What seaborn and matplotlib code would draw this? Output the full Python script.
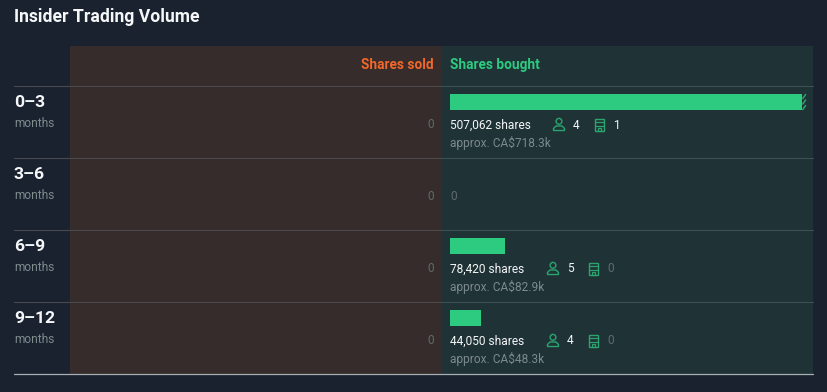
import matplotlib
matplotlib.use('Agg')
import matplotlib.pyplot as plt
from matplotlib.patches import Rectangle, Circle, Polygon
import pandas as pd
import seaborn as sns

periods = ['0–3', '3–6', '6–9', '9–12']
shares_bought = [507062, 0, 78420, 44050]
shares_sold = [0, 0, 0, 0]
bought_labels = ['507,062 shares', None, '78,420 shares', '44,050 shares']
approx_labels = ['approx. CA$718.3k', None, 'approx. CA$82.9k', 'approx. CA$48.3k']
insiders = [4, None, 5, 4]
transactions = [1, None, 0, 0]

BG = '#1a2230'
RED_PANEL = '#352c2b'
GREEN_PANEL = '#1f3236'
GREEN = '#2dcb80'
ICON = '#2aa56e'
ORANGE = '#f2672a'
WHITE = '#f4f6f7'
GREY = '#7c8a8c'
ZERO = '#5f6b6c'

sns.set_theme(style='white')
plt.rcParams['font.family'] = ['Roboto', 'DejaVu Sans']

W, H = 828, 392
fig = plt.figure(figsize=(W / 100, H / 100), dpi=100, facecolor=BG)


def pixel_axes(z):
    a = fig.add_axes([0, 0, 1, 1], zorder=z)
    a.set_xlim(0, W)
    a.set_ylim(H, 0)
    a.axis('off')
    return a


# panels behind the bars, text and icons in front
back = pixel_axes(0)
ax = pixel_axes(2)

back.add_patch(Rectangle((70, 46), 372, 328, fc=RED_PANEL, ec='none'))
back.add_patch(Rectangle((442, 46), 371, 328, fc=GREEN_PANEL, ec='none'))
for y in [86, 158, 230, 302]:
    back.plot([14, 442], [y, y], color='#4a4a4c', lw=0.8)
    back.plot([442, 813], [y, y], color='#3d5052', lw=0.8)
back.plot([14, 813], [374, 374], color='#a8b0b3', lw=0.9)

ax.text(14, 16.5, 'Insider Trading Volume', color=WHITE, fontsize=12.7,
        fontweight='bold', va='center', ha='left')
ax.text(434, 65, 'Shares sold', color=ORANGE, fontsize=9.8, fontweight='bold',
        va='center', ha='right')
ax.text(450, 65, 'Shares bought', color=GREEN, fontsize=9.8, fontweight='bold',
        va='center', ha='left')


def person(x, y):
    ax.add_patch(Circle((x, y - 3.2), 2.9, fc='none', ec=ICON, lw=1))
    ax.add_patch(Polygon([(x - 5.5, y + 6), (x - 5.5, y + 4), (x - 3, y + 1.5), (x + 3, y + 1.5),
                          (x + 5.5, y + 4), (x + 5.5, y + 6)], closed=True, fc='none', ec=ICON, lw=1))


def building(x, y):
    ax.add_patch(Rectangle((x - 4.5, y - 6), 9, 12, fc='none', ec=ICON, lw=1))
    ax.plot([x - 4.5, x + 4.5], [y - 2.5, y - 2.5], color=ICON, lw=0.9)
    ax.plot([x - 4.5, x + 4.5], [y + 1, y + 1], color=ICON, lw=0.9)
    ax.add_patch(Rectangle((x - 1.8, y + 3), 3.6, 3, fc='none', ec=ICON, lw=0.9))


row_top = [86, 158, 230, 302]
person_x = [559, None, 553, 553]
for i, top in enumerate(row_top):
    ax.text(14, top + 16.5, periods[i], color=WHITE, fontsize=12.6, fontweight='bold',
            va='center', ha='left')
    ax.text(14, top + 37.5, 'months', color=GREY, fontsize=8.6, va='center', ha='left')
    ax.text(434, top + 38.5, str(shares_sold[i]), color=ZERO, fontsize=8.6, va='center', ha='right')
    if shares_bought[i] == 0:
        ax.text(450, top + 38.5, '0', color=ZERO, fontsize=8.6, va='center', ha='left')
        continue
    ax.text(450, top + 39, bought_labels[i], color=WHITE, fontsize=8.6, va='center', ha='left')
    ax.text(450, top + 57, approx_labels[i], color=GREY, fontsize=8.6, va='center', ha='left')
    px = person_x[i]
    person(px, top + 38.5)
    ax.text(px + 14, top + 39, str(insiders[i]), color=WHITE, fontsize=8.6,
            va='center', ha='left')
    building(px + 40.5, top + 38.5)
    ax.text(px + 54, top + 39, str(transactions[i]),
            color=WHITE if transactions[i] else ZERO, fontsize=8.6,
            va='center', ha='left')

# bars on their own axes, scaled by share count
# rows are 72px, bar centres sit 16px below each row line
bar_ax = fig.add_axes([450 / W, 1 - 354 / H, 355 / W, 288 / H], zorder=1)
bar_ax.patch.set_alpha(0)
df = pd.DataFrame({'period': periods, 'bought': shares_bought})
sns.barplot(data=df, y='period', x='bought', color=GREEN, saturation=1, width=16 / 72,
            order=periods, linewidth=0, edgecolor='none', ax=bar_ax)
bar_ax.set_xlim(0, max(shares_bought))
bar_ax.axis('off')

# truncated-bar hatching at the end of the long bar
ax.add_patch(Rectangle((802.5, 94), 4, 16, fc=GREEN_PANEL, ec='none'))
for y in [94, 99.5, 105]:
    ax.plot([802.8, 805.6], [y + 4.5, y + 0.5], color=GREEN, lw=1.1, alpha=0.75)

fig.savefig('out.png', dpi=100, facecolor=BG)
